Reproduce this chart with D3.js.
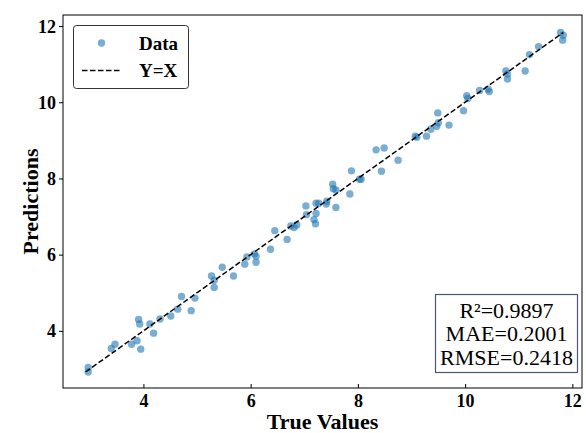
<!DOCTYPE html>
<html>
<head>
<meta charset="utf-8">
<script src="https://cdn.jsdelivr.net/npm/d3@7"></script>
<style>
  html, body { margin: 0; padding: 0; background: #ffffff; }
  svg { display: block; font-family: "Liberation Serif", "Times New Roman", serif; }
</style>
</head>
<body>
<svg id="chart" width="586" height="433"></svg>
<script>
// ---- data ----
const trueValues = [2.97, 2.97, 3.40, 3.47, 3.78, 3.88, 3.95, 3.91, 3.93, 4.12,
  4.19, 4.31, 4.51, 4.64, 4.71, 4.89, 4.96, 5.27, 5.32, 5.32,
  5.47, 5.68, 5.89, 5.93, 6.07, 6.10, 6.10, 6.37, 6.45, 6.68,
  6.75, 6.81, 6.86, 7.03, 7.04, 7.18, 7.21, 7.22, 7.22, 7.27,
  7.41, 7.42, 7.59, 7.53, 7.54, 7.59, 7.85, 7.88, 8.03, 8.06,
  8.44, 8.34, 8.49, 8.75, 9.07, 9.10, 9.28, 9.36, 9.47, 9.50,
  9.49, 9.70, 9.97, 10.03, 10.05, 10.27, 10.43, 10.45, 10.76, 10.79,
  10.79, 11.12, 11.20, 11.37, 11.78, 11.83, 11.82];
const predictions = [3.04, 2.92, 3.54, 3.65, 3.65, 3.74, 3.52, 4.30, 4.18, 4.18,
  3.94, 4.31, 4.39, 4.57, 4.90, 4.53, 4.86, 5.44, 5.33, 5.14,
  5.67, 5.44, 5.75, 5.94, 6.02, 5.96, 5.80, 6.14, 6.63, 6.40,
  6.75, 6.71, 6.78, 7.28, 7.05, 6.92, 6.81, 7.08, 7.35, 7.35,
  7.33, 7.40, 7.24, 7.85, 7.73, 7.70, 7.59, 8.20, 7.98, 7.98,
  8.19, 8.75, 8.80, 8.48, 9.11, 9.08, 9.11, 9.29, 9.37, 9.46,
  9.72, 9.40, 9.78, 10.17, 10.10, 10.31, 10.34, 10.28, 10.82, 10.74,
  10.61, 10.82, 11.25, 11.46, 11.83, 11.76, 11.63];
const xTicks = [4, 6, 8, 10, 12];
const yTicks = [4, 6, 8, 10, 12];
const legendLabels = ["Data", "Y=X"];
const statLines = ["R\u00B2=0.9897", "MAE=0.2001", "RMSE=0.2418"];
const xTitle = "True Values";
const yTitle = "Predictions";

// ---- layout ----
const svg = d3.select("#chart");
const L = 63, R = 582, T = 15, B = 388;
const x = d3.scaleLinear().domain([2.5, 12.18]).range([L, R]);
const y = d3.scaleLinear().domain([2.5, 12.29]).range([B, T]);

const points = trueValues.map((t, i) => ({t, p: predictions[i]}));

// points
svg.append("g").selectAll("circle").data(points).join("circle")
  .attr("cx", d => x(d.t)).attr("cy", d => y(d.p)).attr("r", 3.7)
  .attr("fill", "#1f77b4").attr("fill-opacity", 0.6);

// diagonal
const lo = Math.min(d3.min(trueValues), d3.min(predictions));
const hi = Math.max(d3.max(trueValues), d3.max(predictions));
svg.append("line")
  .attr("x1", x(lo)).attr("y1", y(lo)).attr("x2", x(hi)).attr("y2", y(hi))
  .attr("stroke", "#000").attr("stroke-width", 1.5).attr("stroke-dasharray", "5.5,2.5");

// axes
const xAxis = d3.axisBottom(x).tickValues(xTicks).tickFormat(d3.format("d")).tickSizeInner(-4).tickSizeOuter(0).tickPadding(6);
const gx = svg.append("g").attr("transform", `translate(0,${B})`).call(xAxis);
const yAxis = d3.axisLeft(y).tickValues(yTicks).tickFormat(d3.format("d")).tickSizeInner(4).tickSizeOuter(0).tickPadding(3);
const gy = svg.append("g").attr("transform", `translate(${L},0)`).call(yAxis);
[gx, gy].forEach(g => {
  g.select(".domain").remove();
  g.selectAll("line").attr("stroke", "#000").attr("stroke-width", 1);
  g.selectAll("text").attr("font-family", "Liberation Serif, serif")
    .attr("font-weight", "bold").attr("font-size", 18).attr("fill", "#000");
});
gy.selectAll("text").attr("dy", "0.34em");

// frame
svg.append("rect").attr("x", L).attr("y", T).attr("width", R - L).attr("height", B - T)
  .attr("fill", "none").attr("stroke", "#000").attr("stroke-width", 1);

// axis titles
svg.append("text").attr("x", (L + R) / 2).attr("y", 429).attr("text-anchor", "middle")
  .attr("font-weight", "bold").attr("font-size", 22).text(xTitle);
svg.append("text").attr("transform", `translate(38,${(T + B) / 2}) rotate(-90)`)
  .attr("text-anchor", "middle").attr("font-weight", "bold").attr("font-size", 22).text(yTitle);

// legend
const lg = svg.append("g");
lg.append("rect").attr("x", 73.5).attr("y", 25.5).attr("width", 115).attr("height", 63).attr("rx", 3)
  .attr("fill", "#fff").attr("fill-opacity", 0.8).attr("stroke", "#333").attr("stroke-width", 1);
lg.append("circle").attr("cx", 101.5).attr("cy", 43).attr("r", 3.7).attr("fill", "#1f77b4").attr("fill-opacity", 0.6);
lg.append("line").attr("x1", 82).attr("x2", 122).attr("y1", 70.5).attr("y2", 70.5)
  .attr("stroke", "#000").attr("stroke-width", 1.5).attr("stroke-dasharray", "5.5,2.5");
lg.selectAll("text.lab").data(legendLabels).join("text").attr("class", "lab")
  .attr("x", 139).attr("y", (d, i) => 43 + i * 27.5).attr("dy", "0.35em")
  .attr("font-weight", "bold").attr("font-size", 19).text(d => d);

// stats box
const sb = svg.append("g");
sb.append("rect").attr("x", 435.5).attr("y", 294.5).attr("width", 142).attr("height", 78)
  .attr("fill", "#fff").attr("stroke", "#4a5878").attr("stroke-width", 1.2);
sb.selectAll("text").data(statLines).join("text")
  .attr("x", 506.5).attr("y", (d, i) => 310 + i * 23.5).attr("dy", "0.35em").attr("text-anchor", "middle")
  .attr("font-size", 22).attr("fill", "#000").text(d => d);
</script>
</body>
</html>
